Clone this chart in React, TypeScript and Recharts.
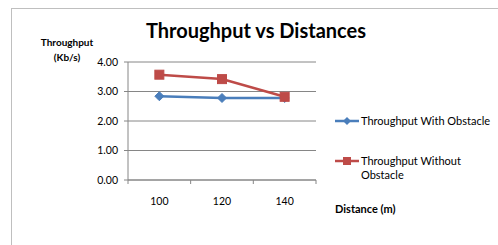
import React from "react";
import { LineChart, Line, XAxis, YAxis, CartesianGrid } from "recharts";

const distances = ["100", "120", "140"];
const withObstacle = [2.84, 2.78, 2.78];
const withoutObstacle = [3.57, 3.42, 2.82];
const yTicks = [0, 1, 2, 3, 4];

const seriesNames = ["Throughput With Obstacle", "Throughput Without Obstacle"];

const data = distances.map((d, i) => ({
  distance: d,
  with: withObstacle[i],
  without: withoutObstacle[i],
}));

const FONT = "Lato, 'Open Sans', sans-serif";
const BLUE = "#4a7ebb";
const RED = "#be4b48";
const BAND = 62.7;

const Diamond = (props: any) => {
  const { cx, cy } = props;
  if (cx == null || cy == null) return null;
  const r = 4.5;
  return (
    <path
      d={`M${cx},${cy - r}L${cx + r},${cy}L${cx},${cy + r}L${cx - r},${cy}Z`}
      fill={BLUE}
      stroke={BLUE}
    />
  );
};

const Square = (props: any) => {
  const { cx, cy } = props;
  if (cx == null || cy == null) return null;
  const s = 4.5;
  return <rect x={cx - s} y={cy - s} width={s * 2} height={s * 2} fill={RED} stroke={RED} />;
};

const XTick = (props: any) => {
  const { x, y, payload, index } = props;
  const last = index === distances.length - 1;
  return (
    <g>
      <line x1={x - BAND / 2} y1={y - 8} x2={x - BAND / 2} y2={y - 4} stroke="#868686" />
      {last && <line x1={x + BAND / 2} y1={y - 8} x2={x + BAND / 2} y2={y - 4} stroke="#868686" />}
      <text x={x} y={y + 17} textAnchor="middle" fontSize={10.5} fill="#000" fontFamily={FONT}>
        {payload.value}
      </text>
    </g>
  );
};

const LegendBox = () => (
  <div style={{ fontFamily: FONT, fontSize: 11, color: "#000", lineHeight: "14px" }}>
    <div style={{ display: "flex", alignItems: "flex-start" }}>
      <svg width={28} height={14}>
        <line x1={2} y1={7} x2={26} y2={7} stroke={BLUE} strokeWidth={2.5} />
        <path d="M14,3L18,7L14,11L10,7Z" fill={BLUE} />
      </svg>
      <span>{seriesNames[0]}</span>
    </div>
    <div style={{ display: "flex", alignItems: "flex-start", marginTop: 26 }}>
      <svg width={28} height={14}>
        <line x1={2} y1={7} x2={26} y2={7} stroke={RED} strokeWidth={2.5} />
        <rect x={10} y={3} width={8} height={8} fill={RED} />
      </svg>
      <span style={{ width: 110 }}>{seriesNames[1]}</span>
    </div>
  </div>
);

export default function App() {
  return (
    <div style={{ position: "absolute", left: 0, top: 0, width: 498, height: 245, background: "#fff" }}>
      <div
        style={{
          position: "absolute",
          left: 11,
          top: 8,
          width: 487,
          height: 237,
          borderLeft: "1px solid #bfbfbf",
          borderTop: "1px solid #bfbfbf",
        }}
      />
      <LineChart
        width={498}
        height={245}
        data={data}
        margin={{ top: 62, right: 182, bottom: 0, left: 68 }}
      >
        <CartesianGrid vertical={false} stroke="#868686" />
        <XAxis
          dataKey="distance"
          height={65}
          padding={{ left: BAND / 2, right: BAND / 2 }}
          stroke="#868686"
          tickLine={false}
          tick={<XTick />}
          interval={0}
        />
        <YAxis
          width={60}
          domain={[0, 4]}
          ticks={yTicks}
          tickFormatter={(v: number) => v.toFixed(2)}
          stroke="#868686"
          tickSize={4}
          tick={{ fill: "#000", fontSize: 10.5, fontFamily: FONT }}
          tickMargin={6}
        />
        <Line
          dataKey="with"
          name={seriesNames[0]}
          stroke={BLUE}
          strokeWidth={2.5}
          dot={<Diamond />}
          isAnimationActive={false}
        />
        <Line
          dataKey="without"
          name={seriesNames[1]}
          stroke={RED}
          strokeWidth={2.5}
          dot={<Square />}
          isAnimationActive={false}
        />
      </LineChart>
      <div style={{ position: "absolute", left: 333, top: 114, width: 165 }}>
        <LegendBox />
      </div>
      <div
        style={{
          position: "absolute",
          left: 0,
          width: 512,
          top: 18,
          textAlign: "center",
          fontFamily: FONT,
          fontWeight: 700,
          fontSize: 20,
          color: "#000",
        }}
      >
        Throughput vs Distances
      </div>
      <div
        style={{
          position: "absolute",
          left: 28,
          width: 78,
          top: 35,
          textAlign: "center",
          fontFamily: FONT,
          fontWeight: 700,
          fontSize: 10,
          lineHeight: "15px",
          color: "#000",
        }}
      >
        Throughput
        <br />
        (Kb/s)
      </div>
      <div
        style={{
          position: "absolute",
          left: 335,
          top: 202,
          fontFamily: FONT,
          fontWeight: 700,
          fontSize: 11,
          color: "#000",
        }}
      >
        Distance (m)
      </div>
    </div>
  );
}
